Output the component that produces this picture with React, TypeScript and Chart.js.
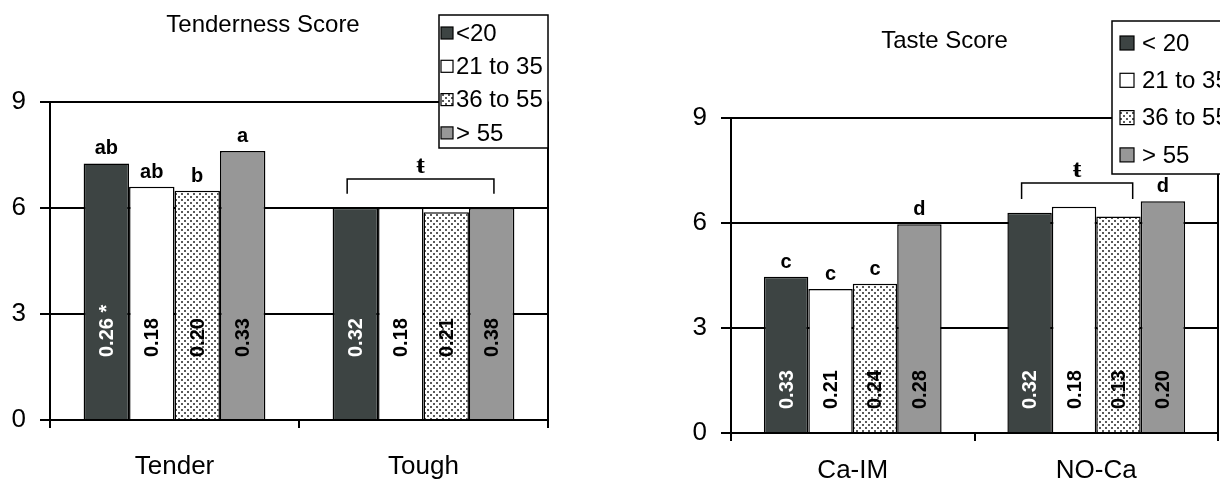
import React, { useEffect, useRef } from "react";
import { Chart, registerables } from "chart.js";

Chart.register(...registerables);

const FONT = "'Liberation Sans', Arial, Helvetica, sans-serif";
const SERIF = "'Liberation Serif', 'DejaVu Serif', serif";

// ---------- data ----------
const ageGroupsTender = ["<20", "21 to 35", "36 to 55", "> 55"];
const ageGroupsTaste = ["< 20", "21 to 35", "36 to 55", "> 55"];

const tenderCategories = ["Tender", "Tough"];
const tenderLt20 = [7.25, 6.0];
const tender21to35 = [6.59, 6.0];
const tender36to55 = [6.48, 5.87];
const tenderGt55 = [7.6, 5.99];
const tenderSeTender = ["0.26 *", "0.18", "0.20", "0.33"];
const tenderSeTough = ["0.32", "0.18", "0.21", "0.38"];
const tenderLettersTender = ["ab", "ab", "b", "a"];
const tenderLettersTough = ["", "", "", ""];

const tasteCategories = ["Ca-IM", "NO-Ca"];
const tasteLt20 = [4.47, 6.3];
const taste21to35 = [4.12, 6.47];
const taste36to55 = [4.27, 6.19];
const tasteGt55 = [5.97, 6.63];
const tasteSeCaIM = ["0.33", "0.21", "0.24", "0.28"];
const tasteSeNoCa = ["0.32", "0.18", "0.13", "0.20"];
const tasteLettersCaIM = ["c", "c", "c", "d"];
const tasteLettersNoCa = ["", "", "", "d"];

const yMin = 0;
const yMax = 9;
const yStep = 3;

// ---------- helpers ----------
function makeDots(): CanvasPattern | string {
  const c = document.createElement("canvas");
  c.width = 6;
  c.height = 6;
  const g = c.getContext("2d");
  if (!g) return "#eee";
  g.fillStyle = "#ffffff";
  g.fillRect(0, 0, 6, 6);
  g.fillStyle = "#5a5a5a";
  g.fillRect(1, 1, 2, 2);
  g.fillRect(4, 4, 2, 2);
  const p = g.createPattern(c, "repeat");
  return p || "#eee";
}

type PanelCfg = {
  width: number;
  left: number;
  padding: { left: number; right: number; top: number; bottom: number };
  xHeight: number;
  xPad: number;
  categories: string[];
  labels: string[];
  series: number[][];
  values: string[][];
  letters: string[][];
  valueLift: number;
  title: string;
  titleX: number;
  titleY: number;
  bracket: { cat: number; from: number; to: number; top: number; leg: number };
  legend: { x: number; y: number; w: number; h: number; swX: number; sw: number; first: number; rowH: number; textX: number };
};

function makeOverlay(cfg: PanelCfg) {
  return {
    id: "overlay",
    afterDatasetsDraw(chart: any) {
      const ctx: CanvasRenderingContext2D = chart.ctx;
      const ca = chart.chartArea;
      const ys = chart.scales.y;
      ctx.save();
      // plot area right border
      ctx.strokeStyle = "#000";
      ctx.lineWidth = 2;
      ctx.beginPath();
      ctx.moveTo(ca.right, ca.top);
      ctx.lineTo(ca.right, ca.bottom);
      ctx.stroke();

      const n = chart.data.datasets.length;
      for (let di = 0; di < n; di++) {
        const meta = chart.getDatasetMeta(di);
        meta.data.forEach((el: any, ci: number) => {
          const v = cfg.values[ci][di];
          ctx.save();
          ctx.translate(el.x + 1, el.base - cfg.valueLift);
          ctx.rotate(-Math.PI / 2);
          ctx.font = `bold 20px ${FONT}`;
          ctx.fillStyle = di === 0 ? "#ffffff" : "#000000";
          ctx.textAlign = "left";
          ctx.textBaseline = "middle";
          ctx.fillText(v, 0, 0);
          ctx.restore();
          const l = cfg.letters[ci][di];
          if (l) {
            ctx.font = `bold 20px ${FONT}`;
            ctx.fillStyle = "#000";
            ctx.textAlign = "center";
            ctx.textBaseline = "alphabetic";
            ctx.fillText(l, el.x, el.y - 9);
          }
        });
      }

      // bracket with significance mark
      const b = cfg.bracket;
      const e0 = chart.getDatasetMeta(0).data[b.cat];
      const e1 = chart.getDatasetMeta(1).data[b.cat];
      const step = e1.x - e0.x;
      const x1 = e0.x + b.from * step;
      const x2 = e0.x + b.to * step;
      const yt = ys.getPixelForValue(b.top);
      const yl = ys.getPixelForValue(b.leg);
      ctx.strokeStyle = "#000";
      ctx.lineWidth = 1.5;
      ctx.beginPath();
      ctx.moveTo(x1, yl);
      ctx.lineTo(x1, yt);
      ctx.lineTo(x2, yt);
      ctx.lineTo(x2, yl);
      ctx.stroke();
      ctx.font = `bold 26px ${SERIF}`;
      ctx.fillStyle = "#000";
      ctx.textAlign = "center";
      ctx.textBaseline = "alphabetic";
      ctx.fillText("ŧ", (x1 + x2) / 2, yt - 6);

      // title
      ctx.font = `24px ${FONT}`;
      ctx.textAlign = "center";
      ctx.fillText(cfg.title, cfg.titleX, cfg.titleY);

      // legend
      const L = cfg.legend;
      ctx.fillStyle = "#fff";
      ctx.fillRect(L.x, L.y, L.w, L.h);
      ctx.strokeStyle = "#000";
      ctx.lineWidth = 1.5;
      ctx.strokeRect(L.x, L.y, L.w, L.h);
      chart.data.datasets.forEach((ds: any, i: number) => {
        const cy = L.y + L.first + i * L.rowH;
        ctx.fillStyle = ds.backgroundColor;
        ctx.fillRect(L.x + L.swX, cy - L.sw / 2, L.sw, L.sw);
        ctx.strokeStyle = "#000";
        ctx.lineWidth = 1.2;
        ctx.strokeRect(L.x + L.swX, cy - L.sw / 2, L.sw, L.sw);
        ctx.fillStyle = "#000";
        ctx.font = `24px ${FONT}`;
        ctx.textAlign = "left";
        ctx.textBaseline = "middle";
        ctx.fillText(ds.label, L.x + L.textX, cy + 1);
      });
      ctx.restore();
    },
  };
}

function Panel({ cfg }: { cfg: PanelCfg }) {
  const ref = useRef<HTMLCanvasElement | null>(null);
  useEffect(() => {
    if (!ref.current) return;
    const dots = makeDots();
    const fills: any[] = ["#3d4443", "#ffffff", dots, "#979797"];
    const chart = new Chart(ref.current, {
      type: "bar",
      data: {
        labels: cfg.categories,
        datasets: cfg.series.map((s, i) => ({
          label: cfg.labels[i],
          data: s,
          backgroundColor: fills[i],
          borderColor: "#000",
          borderWidth: 1.5,
          categoryPercentage: 0.73,
          barPercentage: 1,
        })),
      },
      options: {
        responsive: false,
        maintainAspectRatio: false,
        animation: false,
        devicePixelRatio: 1,
        layout: { padding: cfg.padding },
        plugins: {
          legend: { display: false },
          title: { display: false },
          tooltip: { enabled: false },
        },
        scales: {
          x: {
            afterFit: (s: any) => {
              s.height = cfg.xHeight;
            },
            grid: {
              display: true,
              drawOnChartArea: false,
              drawTicks: true,
              tickLength: 8,
              color: "#000",
              lineWidth: 2,
              offset: true,
            },
            border: { display: true, color: "#000", width: 2 },
            ticks: {
              color: "#000",
              font: { family: FONT, size: 26 },
              padding: cfg.xPad,
              maxRotation: 0,
            },
          },
          y: {
            min: yMin,
            max: yMax,
            afterFit: (s: any) => {
              s.width = 50;
            },
            grid: {
              color: "#000",
              lineWidth: 2,
              tickLength: 10,
              drawTicks: true,
            },
            border: { display: true, color: "#000", width: 2 },
            ticks: {
              stepSize: yStep,
              color: "#000",
              font: { family: FONT, size: 26 },
              padding: 14,
            },
          },
        },
      },
      plugins: [makeOverlay(cfg)],
    } as any);
    return () => chart.destroy();
  }, [cfg]);
  return (
    <canvas
      ref={ref}
      width={cfg.width}
      height={481}
      style={{ position: "absolute", left: cfg.left, top: 0, display: "block" }}
    />
  );
}

const tenderCfg: PanelCfg = {
  width: 600,
  left: 0,
  padding: { left: 0, right: 52, top: 101.5, bottom: 0 },
  xHeight: 61,
  xPad: 23,
  categories: tenderCategories,
  labels: ageGroupsTender,
  series: [tenderLt20, tender21to35, tender36to55, tenderGt55],
  values: [tenderSeTender, tenderSeTough],
  letters: [tenderLettersTender, tenderLettersTough],
  valueLift: 62,
  title: "Tenderness Score",
  titleX: 263,
  titleY: 31.7,
  bracket: { cat: 1, from: -0.18, to: 3.05, top: 6.81, leg: 6.39 },
  legend: { x: 439, y: 15, w: 109, h: 133, swX: 2, sw: 12, first: 18, rowH: 33.3, textX: 17 },
};

const tasteCfg: PanelCfg = {
  width: 620,
  left: 600,
  padding: { left: 81, right: 2, top: 118.3, bottom: 0 },
  xHeight: 48,
  xPad: 14,
  categories: tasteCategories,
  labels: ageGroupsTaste,
  series: [tasteLt20, taste21to35, taste36to55, tasteGt55],
  values: [tasteSeCaIM, tasteSeNoCa],
  letters: [tasteLettersCaIM, tasteLettersNoCa],
  valueLift: 23,
  title: "Taste Score",
  titleX: 344.5,
  titleY: 48.3,
  bracket: { cat: 1, from: -0.18, to: 2.32, top: 7.15, leg: 6.69 },
  legend: { x: 512, y: 21, w: 140, h: 153, swX: 8, sw: 14, first: 22, rowH: 37.3, textX: 30 },
};

export default function App() {
  return (
    <div
      style={{
        position: "absolute",
        left: 0,
        top: 0,
        width: 1220,
        height: 481,
        overflow: "hidden",
        background: "#fff",
      }}
    >
      <Panel cfg={tenderCfg} />
      <Panel cfg={tasteCfg} />
    </div>
  );
}
